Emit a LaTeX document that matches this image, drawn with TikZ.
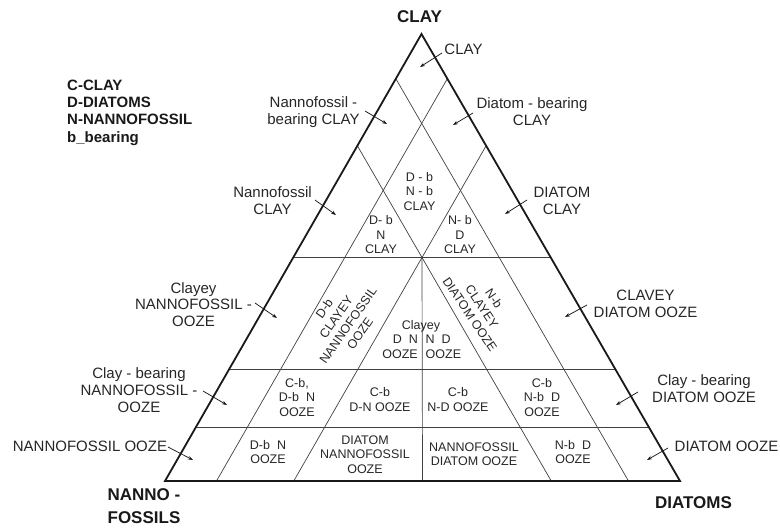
\documentclass[tikz,border=0pt]{standalone}
\usepackage{fontspec}
\setmainfont{Liberation Sans}
\usetikzlibrary{calc,arrows.meta}
\tikzset{
  outline/.style={line width=1.8pt, line join=miter, draw=black!90},
  gridline/.style={line width=0.7pt, draw=black!75},
  arr/.style={-{Stealth[length=5pt,width=3.6pt]}, line width=0.75pt, draw=black!90},
  outer/.style={font=\fontsize{15}{16.8}\selectfont, align=center, inner sep=0pt, text=black!85},
  innerlab/.style={font=\fontsize{12.5}{14.5}\selectfont, align=center, inner sep=0pt, text=black!85},
  titlelab/.style={font=\bfseries\fontsize{17}{23}\selectfont, align=center, inner sep=0pt, text=black!90},
  legendlab/.style={font=\bfseries\fontsize{15}{17.3}\selectfont, align=left, inner sep=0pt, anchor=north west, text=black!90}
}
\begin{document}
\begin{tikzpicture}[x=1pt,y=-1pt]
\useasboundingbox (0,0) rectangle (780,528);
% corners
\coordinate (A) at (421.5,34);
\coordinate (L) at (165,481);
\coordinate (R) at (680,481);
% grid points
\coordinate (h50l) at ($(A)!0.5!(L)$);
\coordinate (h50r) at ($(A)!0.5!(R)$);
\coordinate (h25l) at ($(A)!0.75!(L)$);
\coordinate (h25r) at ($(A)!0.75!(R)$);
\coordinate (h12l) at ($(A)!0.88!(L)$);
\coordinate (h12r) at ($(A)!0.88!(R)$);
\coordinate (n10a) at ($(A)!0.1!(L)$);
\coordinate (n10b) at ($(L)!0.9!(R)$);
\coordinate (n25a) at ($(A)!0.25!(L)$);
\coordinate (n25b) at ($(L)!0.75!(R)$);
\coordinate (d10a) at ($(A)!0.1!(R)$);
\coordinate (d10b) at ($(L)!0.1!(R)$);
\coordinate (d25a) at ($(A)!0.25!(R)$);
\coordinate (d25b) at ($(L)!0.25!(R)$);
\coordinate (ctr) at ($(h50l)!0.5!(h50r)$);
\coordinate (bmid) at ($(L)!0.5!(R)$);
% grid
\draw[gridline] (h50l) -- (h50r);
\draw[gridline] (h25l) -- (h25r);
\draw[gridline] (h12l) -- (h12r);
\draw[gridline] (n10a) -- (n10b);
\draw[gridline] (n25a) -- (n25b);
\draw[gridline] (d10a) -- (d10b);
\draw[gridline] (d25a) -- (d25b);
\draw[gridline] (ctr) -- (bmid);
% outline
\draw[outline] (A) -- (L) -- (R) -- cycle;

% corner titles
\node[titlelab] (tclay) at (419.5,16.7) {CLAY};
\node[titlelab] (tnanno) at (144,506.3) {NANNO -\\FOSSILS};
\node[titlelab] (tdiat) at (693.5,503) {DIATOMS};

% legend
\node[legendlab] (legend) at (67,79.6) {C-CLAY\\D-DIATOMS\\N-NANNOFOSSIL\\b\_bearing};

% outer labels with arrows
\node[outer] (o1) at (463.5,49) {CLAY};
\coordinate (a1s) at (442,53); \coordinate (a1e) at (420,67);
\draw[arr] (a1s) -- (a1e);

\node[outer] (o2) at (532,111.5) {Diatom - bearing\\CLAY};
\coordinate (a2s) at (473,113); \coordinate (a2e) at (453,125);
\draw[arr] (a2s) -- (a2e);

\node[outer] (o3) at (313.5,112.5) {Nannofossil -\\bearing CLAY};
\coordinate (a3s) at (365,111); \coordinate (a3e) at (387,124);
\draw[arr] (a3s) -- (a3e);

\node[outer] (o4) at (272.5,201) {Nannofossil\\CLAY};
\coordinate (a4s) at (315,200); \coordinate (a4e) at (336,215);
\draw[arr] (a4s) -- (a4e);

\node[outer] (o5) at (562,200.5) {DIATOM\\CLAY};
\coordinate (a5s) at (527,200); \coordinate (a5e) at (505,214);
\draw[arr] (a5s) -- (a5e);

\node[outer] (o6) at (193.5,304.5) {Clayey\\NANNOFOSSIL -\\OOZE};
\coordinate (a6s) at (255,303); \coordinate (a6e) at (277,318);
\draw[arr] (a6s) -- (a6e);

\node[outer] (o7) at (645.5,303.5) {CLAVEY\\DIATOM OOZE};
\coordinate (a7s) at (587,305); \coordinate (a7e) at (565,317);
\draw[arr] (a7s) -- (a7e);

\node[outer] (o8) at (139,390) {Clay - bearing\\NANNOFOSSIL -\\OOZE};
\coordinate (a8s) at (203,391); \coordinate (a8e) at (227,405);
\draw[arr] (a8s) -- (a8e);

\node[outer] (o9) at (704,389) {Clay - bearing\\DIATOM OOZE};
\coordinate (a9s) at (638,392); \coordinate (a9e) at (616,405);
\draw[arr] (a9s) -- (a9e);

\node[outer] (o10) at (90,446) {NANNOFOSSIL OOZE};
\coordinate (a10s) at (168,447); \coordinate (a10e) at (193,460);
\draw[arr] (a10s) -- (a10e);

\node[outer] (o11) at (726.5,446) {DIATOM OOZE};
\coordinate (a11s) at (668,448); \coordinate (a11e) at (647,460);
\draw[arr] (a11s) -- (a11e);

% inner labels
\node[innerlab] (i1) at (419.5,191.5) {D - b\\N - b\\CLAY};
\node[innerlab] (i2) at (381,235) {D- b\\N\\CLAY};
\node[innerlab] (i3) at (460,235) {N- b\\D\\CLAY};
\node[innerlab, rotate=55] (i4) at (342,321) {D-b\\CLAYEY\\NANNOFOSSIL\\OOZE};
\node[innerlab, rotate=-56] (i5) at (482,306.5) {N-b\\CLAYEY\\DIATOM OOZE};
\node[innerlab] (i6) at (421,326.3) {Clayey};
\node[innerlab, align=right, anchor=east] (i7) at (418,347) {D~~N\\OOZE};
\node[innerlab, align=left, anchor=west] (i8) at (425.5,347) {N~~D\\OOZE};
\node[innerlab] (i9) at (297,397.5) {C-b,\\D-b~~N\\OOZE};
\node[innerlab] (i10) at (380,399.5) {C-b\\D-N OOZE};
\node[innerlab] (i11) at (458,399.5) {C-b\\N-D OOZE};
\node[innerlab] (i12) at (542,397.5) {C-b\\N-b~~D\\OOZE};
\node[innerlab] (i13) at (268,452) {D-b~~N\\OOZE};
\node[innerlab] (i14) at (365,454.5) {DIATOM\\NANNOFOSSIL\\OOZE};
\node[innerlab] (i15) at (474,454) {NANNOFOSSIL\\DIATOM OOZE};
\node[innerlab] (i16) at (573,452) {N-b~~D\\OOZE};
\end{tikzpicture}
\end{document}
